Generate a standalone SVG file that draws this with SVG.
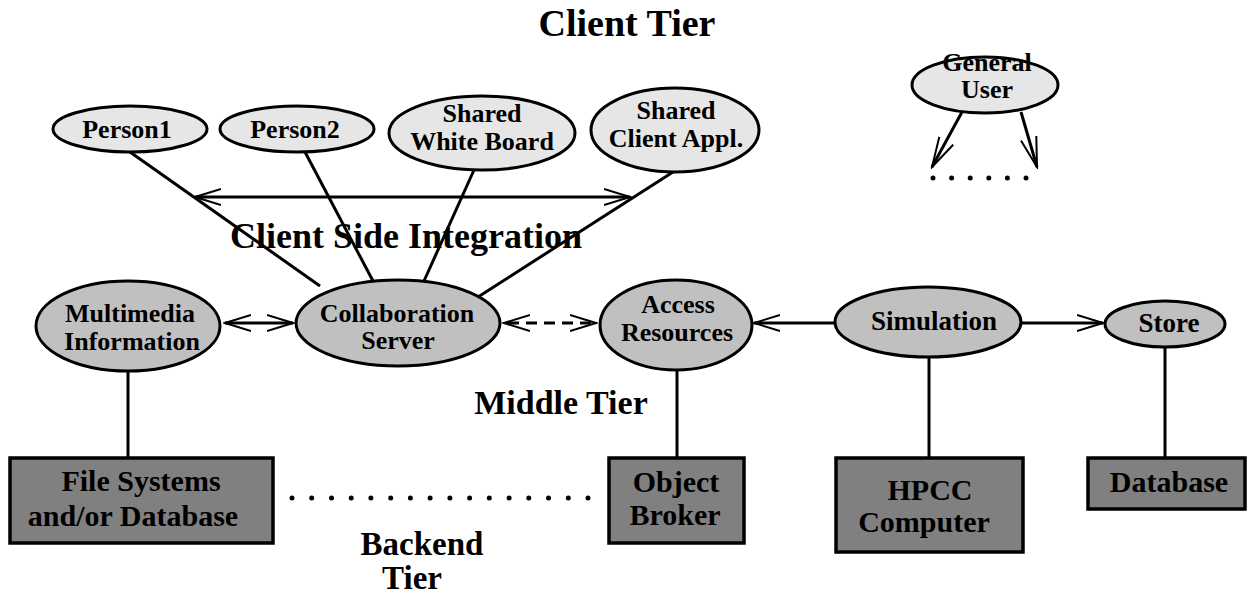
<svg xmlns="http://www.w3.org/2000/svg" width="1248" height="596" viewBox="0 0 1248 596">
<style>
text{font-family:"Liberation Serif","Times New Roman",serif;font-weight:bold;fill:#000;text-anchor:middle}
.lt{fill:#e6e6e6;stroke:#000;stroke-width:3}
.md{fill:#c0c0c0;stroke:#000;stroke-width:3}
.bx{fill:#808080;stroke:#000;stroke-width:3.5}
.ln{stroke:#000;stroke-width:3;fill:none}
.s26{font-size:26px}
.s30{font-size:30px}
.s36{font-size:36px}
</style>
<defs>
<marker id="ah" markerUnits="userSpaceOnUse" markerWidth="28" markerHeight="20" refX="26" refY="10" orient="auto-start-reverse" viewBox="0 0 28 20">
<path d="M0,2 L26,10 L0,18" fill="none" stroke="#000" stroke-width="2"/>
</marker>
<marker id="ahv" markerUnits="userSpaceOnUse" markerWidth="32" markerHeight="20" refX="30" refY="10" orient="auto" viewBox="0 0 32 20">
<path d="M0,2 L30,10 L0,18" fill="none" stroke="#000" stroke-width="2"/>
</marker>
</defs>

<g id="labels">
<text x="627" y="36" style="font-size:38px">Client Tier</text>
<text class="s36" x="406" y="248">Client Side Integration</text>
<text x="561" y="414" style="font-size:34px">Middle Tier</text>
<text x="422" y="555" style="font-size:33px">Backend</text>
<text x="412" y="589" style="font-size:33px">Tier</text>
</g>

<g id="connectors">
<line class="ln" x1="130" y1="152" x2="320" y2="286"/>
<line class="ln" x1="305" y1="152" x2="373" y2="281"/>
<line class="ln" x1="474" y1="170" x2="424" y2="281"/>
<line class="ln" x1="673" y1="172" x2="478" y2="297"/>
<line class="ln" x1="195" y1="197" x2="630" y2="197" marker-start="url(#ah)" marker-end="url(#ah)"/>
<line class="ln" x1="962" y1="112" x2="932" y2="167" marker-end="url(#ahv)"/>
<line class="ln" x1="1021" y1="112" x2="1037" y2="167" marker-end="url(#ahv)"/>
<line class="ln" x1="225" y1="323" x2="293" y2="323" marker-start="url(#ah)" marker-end="url(#ah)"/>
<line class="ln" x1="504" y1="323" x2="596" y2="323" stroke-dasharray="11,7" stroke-dashoffset="-4" marker-start="url(#ah)" marker-end="url(#ah)"/>
<line class="ln" x1="836" y1="323" x2="754" y2="323" marker-end="url(#ah)"/>
<line class="ln" x1="1022" y1="323" x2="1103" y2="323" marker-end="url(#ah)"/>
<line class="ln" x1="128" y1="371" x2="128" y2="458"/>
<line class="ln" x1="677" y1="370" x2="677" y2="458"/>
<line class="ln" x1="929" y1="357" x2="929" y2="458"/>
<line class="ln" x1="1165" y1="347" x2="1165" y2="458"/>
<g fill="#000">
<circle cx="933" cy="178" r="2.5"/><circle cx="951.6" cy="178" r="2.5"/><circle cx="970.2" cy="178" r="2.5"/><circle cx="988.8" cy="178" r="2.5"/><circle cx="1007.4" cy="178" r="2.5"/><circle cx="1026" cy="178" r="2.5"/>
</g>
<g fill="#000">
<circle cx="292" cy="498" r="2.5"/><circle cx="311.7" cy="498" r="2.5"/><circle cx="331.5" cy="498" r="2.5"/><circle cx="351.2" cy="498" r="2.5"/><circle cx="370.9" cy="498" r="2.5"/><circle cx="390.7" cy="498" r="2.5"/><circle cx="410.4" cy="498" r="2.5"/><circle cx="430.1" cy="498" r="2.5"/><circle cx="449.9" cy="498" r="2.5"/><circle cx="469.6" cy="498" r="2.5"/><circle cx="489.3" cy="498" r="2.5"/><circle cx="509.1" cy="498" r="2.5"/><circle cx="528.8" cy="498" r="2.5"/><circle cx="548.5" cy="498" r="2.5"/><circle cx="568.3" cy="498" r="2.5"/><circle cx="588" cy="498" r="2.5"/>
</g>
</g>

<g id="person1"><ellipse class="lt" cx="130" cy="129" rx="77" ry="23"/><text class="s26" x="127" y="138">Person1</text></g>
<g id="person2"><ellipse class="lt" cx="297" cy="129" rx="77" ry="23"/><text class="s26" x="295" y="138">Person2</text></g>
<g id="whiteboard"><ellipse class="lt" cx="482" cy="133" rx="93" ry="37"/><text class="s26" x="482" y="122">Shared</text><text class="s26" x="482" y="150">White Board</text></g>
<g id="clientappl"><ellipse class="lt" cx="675" cy="130" rx="84" ry="42"/><text class="s26" x="676" y="119">Shared</text><text class="s26" x="676" y="147">Client Appl.</text></g>
<g id="generaluser"><ellipse class="lt" cx="985" cy="85" rx="73" ry="28"/><text class="s26" x="987" y="71">General</text><text class="s26" x="987" y="98">User</text></g>

<g id="multimedia"><ellipse class="md" cx="128" cy="326" rx="92" ry="45"/><text class="s26" x="130" y="322">Multimedia</text><text class="s26" x="132" y="350">Information</text></g>
<g id="collab"><ellipse class="md" cx="398" cy="323" rx="102" ry="43"/><text class="s26" x="397" y="322">Collaboration</text><text class="s26" x="398" y="349">Server</text></g>
<g id="access"><ellipse class="md" cx="676" cy="325" rx="76" ry="45"/><text class="s26" x="678" y="313">Access</text><text class="s26" x="677" y="341">Resources</text></g>
<g id="simulation"><ellipse class="md" cx="928" cy="322" rx="93" ry="35"/><text x="934" y="330" style="font-size:27px">Simulation</text></g>
<g id="store"><ellipse class="md" cx="1165" cy="324" rx="60" ry="23"/><text x="1169" y="332" style="font-size:27px">Store</text></g>

<g id="filesystems"><rect class="bx" x="10" y="458" width="263" height="85"/><text class="s30" x="141" y="491">File Systems</text><text class="s30" x="133" y="526">and/or Database</text></g>
<g id="objectbroker"><rect class="bx" x="609" y="458" width="135" height="85"/><text class="s30" x="676" y="492">Object</text><text class="s30" x="675" y="525">Broker</text></g>
<g id="hpcc"><rect class="bx" x="836" y="458" width="187" height="94"/><text class="s30" x="930" y="500">HPCC</text><text class="s30" x="924" y="532">Computer</text></g>
<g id="database"><rect class="bx" x="1088" y="458" width="157" height="51"/><text class="s30" x="1169" y="492">Database</text></g>
</svg>
